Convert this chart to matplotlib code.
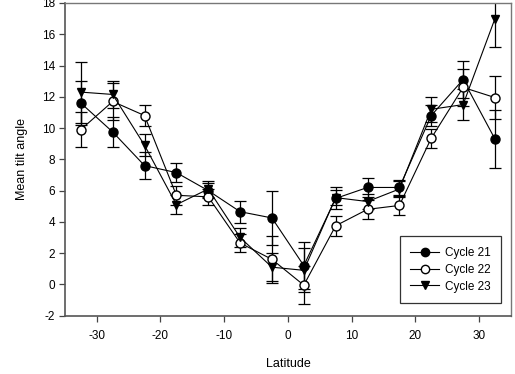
import matplotlib.pyplot as plt
from matplotlib.lines import Line2D

plt.rcParams['font.family'] = ['Liberation Sans', 'DejaVu Sans']
plt.rcParams['axes.unicode_minus'] = False

# latitude bin centres
latitude = [-32.5, -27.5, -22.5, -17.5, -12.5, -7.5, -2.5, 2.5, 7.5, 12.5, 17.5, 22.5, 27.5, 32.5]

# mean tilt angle and error for each cycle
cycle21 = [11.6, 9.75, 7.6, 7.15, 6.0, 4.65, 4.25, 1.2, 5.5, 6.2, 6.2, 10.8, 13.1, 9.3]
cycle21_err = [1.4, 0.95, 0.85, 0.6, 0.5, 0.7, 1.7, 1.5, 0.7, 0.6, 0.5, 0.7, 1.2, 1.85]

cycle22 = [9.9, 11.7, 10.8, 5.7, 5.6, 2.65, 1.6, -0.05, 3.75, 4.8, 5.05, 9.35, 12.6, 11.95]
cycle22_err = [1.1, 1.2, 0.7, 0.6, 0.5, 0.6, 1.5, 1.2, 0.65, 0.6, 0.6, 0.6, 1.2, 1.35]

cycle23 = [12.3, 12.15, 8.9, 5.1, 6.1, 3.0, 1.1, 0.9, 5.55, 5.3, 6.1, 11.2, 11.5, 17.0]
cycle23_err = [1.95, 0.85, 0.7, 0.6, 0.5, 0.6, 0.9, 1.4, 0.5, 0.5, 0.5, 0.8, 1.0, 1.8]

fig = plt.figure(figsize=(5.15, 3.74), dpi=100)
ax = fig.add_axes([0.126, 0.156, 0.866, 0.836])

series = [
    (cycle21, cycle21_err, 'o', 'black', 6.5, 'Cycle 21'),
    (cycle22, cycle22_err, 'o', 'white', 6.5, 'Cycle 22'),
    (cycle23, cycle23_err, 'v', 'black', 6.0, 'Cycle 23'),
]

handles = []
for vals, errs, mk, fc, ms, lab in series:
    ax.errorbar(latitude, vals, yerr=errs, fmt='-', marker=mk, color='black',
                mfc=fc, mec='black', ms=ms, lw=0.8, elinewidth=0.9,
                capsize=4, capthick=0.9)
    handles.append(Line2D([], [], color='black', lw=0.8, marker=mk,
                          mfc=fc, mec='black', ms=ms - 0.5, label=lab))

ax.set_xlim(-35, 35)
ax.set_ylim(-2, 18)
ax.set_xticks([-30, -20, -10, 0, 10, 20, 30])
ax.set_yticks(range(-2, 19, 2))
ax.tick_params(direction='out', length=4, width=0.9, labelsize=8.5, pad=3,
               color='#444444')
ax.tick_params(axis='x', pad=6.5)

for side in ['left', 'bottom']:
    ax.spines[side].set_linewidth(1.2)
    ax.spines[side].set_color('#555555')
for side in ['top', 'right']:
    ax.spines[side].set_linewidth(1.0)
    ax.spines[side].set_color('#777777')

ax.set_xlabel('Latitude', fontsize=9, labelpad=11)
ax.set_ylabel('Mean tilt angle', fontsize=9, labelpad=10)

leg = ax.legend(handles=handles, loc='lower right', bbox_to_anchor=(0.978, 0.04),
                fontsize=8.5, frameon=True, fancybox=False, edgecolor='black',
                handlelength=2.4, handletextpad=0.5, borderpad=0.9,
                labelspacing=0.4, borderaxespad=0)
leg.get_frame().set_linewidth(0.9)

plt.savefig('out.png', dpi=100)
